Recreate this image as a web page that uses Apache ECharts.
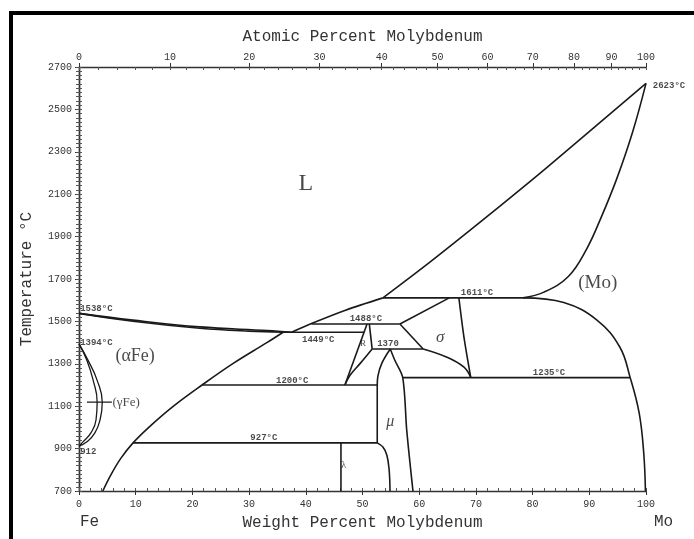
<!DOCTYPE html>
<html lang="en">
<head>
<meta charset="UTF-8">
<title>Fe-Mo</title>
<script src="https://cdn.jsdelivr.net/npm/echarts@6/dist/echarts.min.js"></script>
<style>
  html, body { margin: 0; padding: 0; background: #fff; }
  #chart { position: absolute; left: 0; top: 0; width: 694px; height: 539px; }
  #frame { position: absolute; left: 9px; top: 11px; width: 685px; height: 528px;
           border-top: 4px solid #000; border-left: 4px solid #000; box-sizing: border-box; pointer-events: none; }
</style>
</head>
<body>
<div id="chart"></div>
<div id="frame"></div>
<script>
// tick labels
var tempTicks = [700, 900, 1100, 1300, 1500, 1700, 1900, 2100, 2300, 2500, 2700];
var atomicTicks = [0, 10, 20, 30, 40, 50, 60, 70, 80, 90, 100];

// phase boundaries, [wt% Mo, T in C]
var liquidusFe = [[0, 1538], [9.5, 1506], [21.3, 1474], [33.2, 1457], [37.5, 1449]];
var solidusFe = [[0, 1538], [9.5, 1501], [21.3, 1468], [30, 1454], [36, 1449]];
var liquidusMid = [[37.5, 1449], [41, 1490], [47, 1553], [53.6, 1611]];
var liquidusHigh = [[53.6, 1611], [62, 1782], [74.3, 2045], [82.5, 2225], [100, 2623]];
var solidusMo = [[78.3, 1611], [82, 1638], [86.3, 1712], [89.5, 1840], [92.0, 1985], [94.8, 2170], [97.6, 2390], [100, 2623]];
var solvusMo = [[78.3, 1611], [85.5, 1589], [91.4, 1505], [95.4, 1378], [97.2, 1236], [98.8, 1067], [99.6, 879], [99.9, 700]];
var solvusFe = [[4.2, 700], [5.6, 775], [7.4, 855], [9.5, 926], [12.5, 1005], [16.5, 1097], [21.7, 1200], [27.2, 1302], [33.2, 1401], [36, 1449]];
var gammaOuter = [[0, 1394], [1.6, 1316], [3.2, 1222], [4.1, 1119], [3.7, 1035], [2.8, 974], [1.4, 932], [0, 912]];
var gammaInner = [[0, 1394], [1.4, 1316], [2.5, 1222], [3.2, 1119], [3.0, 1035], [2.1, 974], [0.7, 932], [0, 912]];
var gammaLeader = [[1.4, 1119], [5.8, 1119]];
var sigmaLeftUpper = [[65.3, 1611], [56.6, 1488]];
var sigmaLeftLower = [[56.6, 1488], [60.7, 1370]];
var sigmaLower = [[60.7, 1370], [64.9, 1331], [67.9, 1284], [69.1, 1235]];
var sigmaRight = [[67, 1611], [67.9, 1425], [69.1, 1235]];
var rLeft = [[50.8, 1488], [46.9, 1200]];
var rRight = [[51.2, 1488], [51.7, 1370]];
var rLower = [[51.7, 1370], [49.6, 1302], [47.8, 1246], [46.9, 1200]];
var muLeftUpper = [[54.9, 1370], [53.4, 1302], [52.7, 1240], [52.6, 1200]];
var muLeftMid = [[52.6, 1200], [52.6, 927]];
var muLeftLower = [[52.6, 927], [53.6, 907], [54.3, 869], [54.7, 799], [54.85, 700]];
var muRight = [[54.9, 1370], [55.7, 1317], [57.1, 1235], [57.8, 987], [58.9, 700]];
var lambdaLeft = [[46.2, 927], [46.2, 700]];
var line1611 = [[53.6, 1611], [78.3, 1611]];
var line1488 = [[41, 1488], [56.6, 1488]];
var line1449 = [[36, 1449], [50.3, 1449]];
var line1370 = [[51.7, 1370], [60.7, 1370]];
var line1235 = [[57.1, 1235], [97.2, 1235]];
var line1200 = [[21.7, 1200], [52.6, 1200]];
var line927 = [[9.5, 927], [52.6, 927]];

// labels
var phaseLabels = [['L', 40.0, 2149, 24], ['(αFe)', 9.9, 1335, 18], ['(Mo)', 91.5, 1683, 19],
                   ['σ', 63.7, 1425, 17], ['μ', 54.9, 1025, 16], ['R', 50.1, 1396, 9], ['λ', 46.7, 822, 10]];
var tempLabelsCenter = [['1449°C', 42.2, 1415], ['1488°C', 50.6, 1514], ['1370', 54.5, 1394],
                        ['1611°C', 70.2, 1636], ['1200°C', 37.6, 1218], ['927°C', 32.6, 949], ['1235°C', 82.9, 1260]];
var tempLabelsLeft = [['1538°C', 0.2, 1561], ['1394°C', 0.2, 1401], ['912', 0.2, 884], ['2623°C', 101.2, 2611]];

function atToWt(a) { return 100 * a * 95.95 / (a * 95.95 + (100 - a) * 55.845); }
function wtToAt(w) { return 100 * (w / 95.95) / (w / 95.95 + (100 - w) / 55.845); }

var mono = 'Liberation Mono';
var serif = 'Liberation Serif';
var ink = '#1a1a1a';
var minorTop = [];
for (var a = 0; a <= 100; a += 2) minorTop.push(atToWt(a));

function boundary(data, smooth, width) {
    return {
        type: 'line', data: data, xAxisIndex: 0, yAxisIndex: 0,
        showSymbol: false, symbol: 'none', smooth: smooth || false, silent: true,
        lineStyle: { color: ink, width: width || 1.6 }, z: 3
    };
}

function labelSeries(items, align, font, size, italic, bold) {
    return {
        type: 'scatter', xAxisIndex: 0, yAxisIndex: 0, symbolSize: 0, clip: false, silent: true,
        data: items.map(function (d) { return { name: d[0], value: [d[1], d[2]] }; }),
        label: {
            show: true, position: align === 'left' ? 'right' : 'inside', distance: 0,
            formatter: function (p) { return p.name; },
            fontFamily: font, fontSize: size, color: ink,
            fontStyle: italic ? 'italic' : 'normal', fontWeight: bold ? 'bold' : 'normal'
        },
        z: 5
    };
}

var series = [
    boundary(liquidusFe, 0.4), boundary(solidusFe, 0.4), boundary(liquidusMid, 0.3), boundary(liquidusHigh, 0.3),
    boundary(solidusMo, 0.4), boundary(solvusMo, 0.4), boundary(solvusFe, 0.4),
    boundary(gammaOuter, 0.5, 1.3), boundary(gammaInner, 0.5, 1.3), boundary(gammaLeader, false, 1.3),
    boundary(sigmaLeftUpper), boundary(sigmaLeftLower), boundary(sigmaLower, 0.4), boundary(sigmaRight, 0.3),
    boundary(rLeft), boundary(rRight), boundary(rLower, 0.4),
    boundary(muLeftUpper, 0.4), boundary(muLeftMid), boundary(muLeftLower, 0.4), boundary(muRight, 0.3),
    boundary(lambdaLeft),
    boundary(line1611), boundary(line1488), boundary(line1449), boundary(line1370),
    boundary(line1235), boundary(line1200), boundary(line927),
    labelSeries(tempLabelsCenter, 'center', mono, 9, false, true),
    labelSeries(tempLabelsLeft, 'left', mono, 9, false, true),
    labelSeries([['(γFe)', 5.9, 1119]], 'left', serif, 13)
];
phaseLabels.forEach(function (d) {
    series.push(labelSeries([d], 'center', serif, d[3], d[0] === 'σ' || d[0] === 'μ'));
});

var axisLine = { show: true, lineStyle: { color: '#333', width: 1.4 } };
var tickLabel = { fontFamily: mono, fontSize: 10, color: '#333' };

var option = {
    animation: false,
    grid: { left: 79, right: 48, top: 67, bottom: 48, outerBoundsMode: 'none' },
    xAxis: [
        {
            type: 'value', position: 'bottom', min: 0, max: 100, interval: 10,
            name: 'Weight Percent Molybdenum', nameLocation: 'middle', nameGap: 24,
            nameTextStyle: { fontFamily: mono, fontSize: 16, color: '#333' },
            axisLine: axisLine, splitLine: { show: false },
            axisTick: { show: true, length: 4, lineStyle: { color: '#333' } },
            axisLabel: Object.assign({ margin: 8 }, tickLabel)
        },
        {
            type: 'value', position: 'bottom', min: 0, max: 100, interval: 2,
            axisLine: { show: false }, splitLine: { show: false }, axisLabel: { show: false },
            axisTick: { show: true, inside: true, length: 3, lineStyle: { color: '#555' } }
        },
        {
            type: 'value', position: 'top', min: 0, max: 100,
            name: 'Atomic Percent Molybdenum', nameLocation: 'middle', nameGap: 22,
            nameTextStyle: { fontFamily: mono, fontSize: 16, color: '#333' },
            axisLine: axisLine, splitLine: { show: false },
            axisTick: { show: true, length: 4, customValues: atomicTicks.map(atToWt), lineStyle: { color: '#333' } },
            axisLabel: Object.assign({
                margin: 5, customValues: atomicTicks.map(atToWt),
                formatter: function (v) { return String(Math.round(wtToAt(v))); }
            }, tickLabel)
        },
        {
            type: 'value', position: 'top', min: 0, max: 100,
            axisLine: { show: false }, splitLine: { show: false }, axisLabel: { show: false },
            axisTick: { show: true, inside: true, length: 3, customValues: minorTop, lineStyle: { color: '#555' } }
        }
    ],
    yAxis: [
        {
            type: 'value', position: 'left', min: 700, max: 2700,
            name: 'Temperature °C', nameLocation: 'middle', nameGap: 44, nameRotate: 90,
            nameTextStyle: { fontFamily: mono, fontSize: 16, color: '#333' },
            axisLine: axisLine, splitLine: { show: false },
            axisTick: { show: true, length: 4, customValues: tempTicks, lineStyle: { color: '#333' } },
            axisLabel: Object.assign({ margin: 7, customValues: tempTicks,
                formatter: function (v) { return String(v); } }, tickLabel)
        },
        {
            type: 'value', position: 'left', min: 700, max: 2700, interval: 20,
            axisLine: { show: false }, splitLine: { show: false }, axisLabel: { show: false },
            axisTick: { show: true, inside: true, length: 3, lineStyle: { color: '#555' } }
        },
        {
            type: 'value', position: 'right', min: 700, max: 2700, interval: 20,
            axisLine: axisLine, splitLine: { show: false }, axisLabel: { show: false },
            axisTick: { show: true, inside: true, length: 3, lineStyle: { color: '#555' } }
        }
    ],
    graphic: [
        { type: 'text', left: 80, top: 514, style: { text: 'Fe', font: '16px "Liberation Mono"', fill: '#333' } },
        { type: 'text', left: 654, top: 514, style: { text: 'Mo', font: '16px "Liberation Mono"', fill: '#333' } }
    ],
    series: series
};

var chart = echarts.init(document.getElementById('chart'), null, { renderer: 'canvas' });
chart.setOption(option);
</script>
</body>
</html>
